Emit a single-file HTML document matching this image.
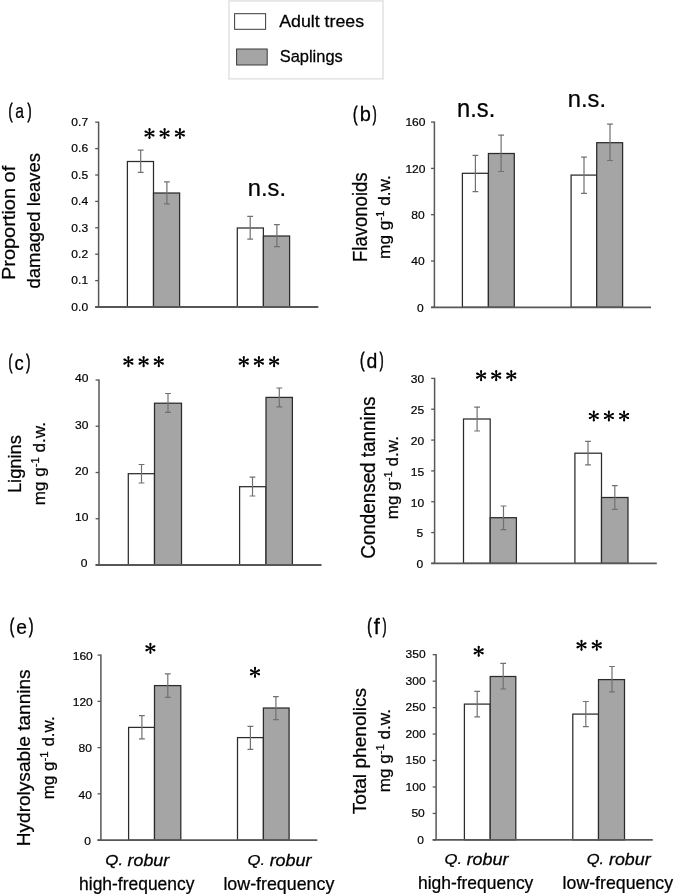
<!DOCTYPE html><html><head><meta charset="utf-8"><style>html,body{margin:0;padding:0;background:#fff;overflow:hidden;}svg{display:block;font-family:"Liberation Sans", sans-serif;will-change:transform;}text{fill:#000;}</style></head><body>
<svg width="675" height="894" viewBox="0 0 675 894">
<rect width="675" height="894" fill="#fff"/>
<g id="shapes">
<rect x="228.9" y="0.9" width="154.1" height="77.9" fill="#fff" stroke="#e6e6e6" stroke-width="1.8"/>
<rect x="234.6" y="13.7" width="31" height="15.6" fill="#fff" stroke="#3a3a3a" stroke-width="1"/>
<rect x="236.6" y="49" width="30.6" height="16" fill="#a5a5a5" stroke="#3a3a3a" stroke-width="1"/>
<line x1="95.2" y1="307" x2="98.6" y2="307" stroke="#575757" stroke-width="1.3"/>
<text class="tk" transform="translate(88.1 310.85) scale(1.03 1)" font-size="11.7" text-anchor="end" stroke="#000" stroke-width="0.2">0.0</text>
<line x1="95.2" y1="280.6" x2="98.6" y2="280.6" stroke="#575757" stroke-width="1.3"/>
<text class="tk" transform="translate(88.1 284.45) scale(1.03 1)" font-size="11.7" text-anchor="end" stroke="#000" stroke-width="0.2">0.1</text>
<line x1="95.2" y1="254.2" x2="98.6" y2="254.2" stroke="#575757" stroke-width="1.3"/>
<text class="tk" transform="translate(88.1 258.05) scale(1.03 1)" font-size="11.7" text-anchor="end" stroke="#000" stroke-width="0.2">0.2</text>
<line x1="95.2" y1="227.8" x2="98.6" y2="227.8" stroke="#575757" stroke-width="1.3"/>
<text class="tk" transform="translate(88.1 231.65) scale(1.03 1)" font-size="11.7" text-anchor="end" stroke="#000" stroke-width="0.2">0.3</text>
<line x1="95.2" y1="201.4" x2="98.6" y2="201.4" stroke="#575757" stroke-width="1.3"/>
<text class="tk" transform="translate(88.1 205.25) scale(1.03 1)" font-size="11.7" text-anchor="end" stroke="#000" stroke-width="0.2">0.4</text>
<line x1="95.2" y1="175" x2="98.6" y2="175" stroke="#575757" stroke-width="1.3"/>
<text class="tk" transform="translate(88.1 178.85) scale(1.03 1)" font-size="11.7" text-anchor="end" stroke="#000" stroke-width="0.2">0.5</text>
<line x1="95.2" y1="148.6" x2="98.6" y2="148.6" stroke="#575757" stroke-width="1.3"/>
<text class="tk" transform="translate(88.1 152.45) scale(1.03 1)" font-size="11.7" text-anchor="end" stroke="#000" stroke-width="0.2">0.6</text>
<line x1="95.2" y1="122.2" x2="98.6" y2="122.2" stroke="#575757" stroke-width="1.3"/>
<text class="tk" transform="translate(88.1 126.05) scale(1.03 1)" font-size="11.7" text-anchor="end" stroke="#000" stroke-width="0.2">0.7</text>
<rect x="127.4" y="161.5" width="26.1" height="145.5" fill="white" stroke="#2b2b2b" stroke-width="1.25"/>
<rect x="153.5" y="193" width="26.1" height="114" fill="#a5a5a5" stroke="#2b2b2b" stroke-width="1.25"/>
<rect x="237.3" y="228" width="26.1" height="79" fill="white" stroke="#2b2b2b" stroke-width="1.25"/>
<rect x="263.4" y="236" width="26.2" height="71" fill="#a5a5a5" stroke="#2b2b2b" stroke-width="1.25"/>
<path d="M140.7 150.1V172.4M137.8 150.1H143.6M137.8 172.4H143.6" stroke="#717171" stroke-width="1.2" fill="none"/>
<path d="M166.9 181.8V203.8M164 181.8H169.8M164 203.8H169.8" stroke="#717171" stroke-width="1.2" fill="none"/>
<path d="M250.2 216.4V239.2M247.3 216.4H253.1M247.3 239.2H253.1" stroke="#717171" stroke-width="1.2" fill="none"/>
<path d="M276.9 224.7V246.7M274 224.7H279.8M274 246.7H279.8" stroke="#717171" stroke-width="1.2" fill="none"/>
<line x1="98.6" y1="121.6" x2="98.6" y2="307" stroke="#575757" stroke-width="1.5"/>
<line x1="95.2" y1="307" x2="318.3" y2="307" stroke="#575757" stroke-width="1.8"/>
<g fill="#000" transform="translate(149.5 133.5)"><polygon points="0.55,0 1.05,-4.55 -1.05,-4.55 -0.55,-0"/><circle cx="0" cy="-4.55" r="1.05"/><polygon points="-0.55,-0 -1.05,4.55 1.05,4.55 0.55,0"/><circle cx="-0" cy="4.55" r="1.05"/><polygon points="0.25,0.49 4.531,-1.13 3.577,-3.001 -0.25,-0.49"/><circle cx="4.054" cy="-2.066" r="1.05"/><polygon points="0.25,-0.49 -3.577,-3.001 -4.531,-1.13 -0.25,0.49"/><circle cx="-4.054" cy="-2.066" r="1.05"/><polygon points="-0.25,0.49 3.577,3.001 4.531,1.13 0.25,-0.49"/><circle cx="4.054" cy="2.066" r="1.05"/><polygon points="-0.25,-0.49 -4.531,1.13 -3.577,3.001 0.25,0.49"/><circle cx="-4.054" cy="2.066" r="1.05"/><circle cx="0" cy="0" r="0.9"/></g>
<g fill="#000" transform="translate(164.6 133.5)"><polygon points="0.55,0 1.05,-4.55 -1.05,-4.55 -0.55,-0"/><circle cx="0" cy="-4.55" r="1.05"/><polygon points="-0.55,-0 -1.05,4.55 1.05,4.55 0.55,0"/><circle cx="-0" cy="4.55" r="1.05"/><polygon points="0.25,0.49 4.531,-1.13 3.577,-3.001 -0.25,-0.49"/><circle cx="4.054" cy="-2.066" r="1.05"/><polygon points="0.25,-0.49 -3.577,-3.001 -4.531,-1.13 -0.25,0.49"/><circle cx="-4.054" cy="-2.066" r="1.05"/><polygon points="-0.25,0.49 3.577,3.001 4.531,1.13 0.25,-0.49"/><circle cx="4.054" cy="2.066" r="1.05"/><polygon points="-0.25,-0.49 -4.531,1.13 -3.577,3.001 0.25,0.49"/><circle cx="-4.054" cy="2.066" r="1.05"/><circle cx="0" cy="0" r="0.9"/></g>
<g fill="#000" transform="translate(179.9 133.5)"><polygon points="0.55,0 1.05,-4.55 -1.05,-4.55 -0.55,-0"/><circle cx="0" cy="-4.55" r="1.05"/><polygon points="-0.55,-0 -1.05,4.55 1.05,4.55 0.55,0"/><circle cx="-0" cy="4.55" r="1.05"/><polygon points="0.25,0.49 4.531,-1.13 3.577,-3.001 -0.25,-0.49"/><circle cx="4.054" cy="-2.066" r="1.05"/><polygon points="0.25,-0.49 -3.577,-3.001 -4.531,-1.13 -0.25,0.49"/><circle cx="-4.054" cy="-2.066" r="1.05"/><polygon points="-0.25,0.49 3.577,3.001 4.531,1.13 0.25,-0.49"/><circle cx="4.054" cy="2.066" r="1.05"/><polygon points="-0.25,-0.49 -4.531,1.13 -3.577,3.001 0.25,0.49"/><circle cx="-4.054" cy="2.066" r="1.05"/><circle cx="0" cy="0" r="0.9"/></g>
<line x1="431" y1="307.3" x2="434.4" y2="307.3" stroke="#575757" stroke-width="1.3"/>
<text class="tk" transform="translate(423.7 311.65) scale(1.03 1)" font-size="11.7" text-anchor="end" stroke="#000" stroke-width="0.2">0</text>
<line x1="431" y1="261" x2="434.4" y2="261" stroke="#575757" stroke-width="1.3"/>
<text class="tk" transform="translate(424.6 265.35) scale(1.03 1)" font-size="11.7" text-anchor="end" stroke="#000" stroke-width="0.2">40</text>
<line x1="431" y1="214.7" x2="434.4" y2="214.7" stroke="#575757" stroke-width="1.3"/>
<text class="tk" transform="translate(424.6 219.05) scale(1.03 1)" font-size="11.7" text-anchor="end" stroke="#000" stroke-width="0.2">80</text>
<line x1="431" y1="168.4" x2="434.4" y2="168.4" stroke="#575757" stroke-width="1.3"/>
<text class="tk" transform="translate(425.5 172.75) scale(1.03 1)" font-size="11.7" text-anchor="end" stroke="#000" stroke-width="0.2">120</text>
<line x1="431" y1="122.1" x2="434.4" y2="122.1" stroke="#575757" stroke-width="1.3"/>
<text class="tk" transform="translate(425.5 126.45) scale(1.03 1)" font-size="11.7" text-anchor="end" stroke="#000" stroke-width="0.2">160</text>
<rect x="462.4" y="173.3" width="26" height="134" fill="white" stroke="#2b2b2b" stroke-width="1.25"/>
<rect x="488.4" y="153.5" width="25.9" height="153.8" fill="#a5a5a5" stroke="#2b2b2b" stroke-width="1.25"/>
<rect x="571.1" y="175.1" width="25.6" height="132.2" fill="white" stroke="#2b2b2b" stroke-width="1.25"/>
<rect x="596.7" y="142.7" width="25.9" height="164.6" fill="#a5a5a5" stroke="#2b2b2b" stroke-width="1.25"/>
<path d="M475.4 155.4V191.7M472.5 155.4H478.3M472.5 191.7H478.3" stroke="#717171" stroke-width="1.2" fill="none"/>
<path d="M501.1 135.2V171.5M498.2 135.2H504M498.2 171.5H504" stroke="#717171" stroke-width="1.2" fill="none"/>
<path d="M584 157.2V193.3M581.1 157.2H586.9M581.1 193.3H586.9" stroke="#717171" stroke-width="1.2" fill="none"/>
<path d="M610 124.2V160.5M607.1 124.2H612.9M607.1 160.5H612.9" stroke="#717171" stroke-width="1.2" fill="none"/>
<line x1="434.4" y1="121.5" x2="434.4" y2="307.3" stroke="#575757" stroke-width="1.5"/>
<line x1="431" y1="307.3" x2="651" y2="307.3" stroke="#575757" stroke-width="1.8"/>
<line x1="95.6" y1="565" x2="99" y2="565" stroke="#575757" stroke-width="1.3"/>
<text class="tk" transform="translate(87.5 567.45) scale(1.03 1)" font-size="11.7" text-anchor="end" stroke="#000" stroke-width="0.2">0</text>
<line x1="95.6" y1="518.75" x2="99" y2="518.75" stroke="#575757" stroke-width="1.3"/>
<text class="tk" transform="translate(88.4 521.2) scale(1.03 1)" font-size="11.7" text-anchor="end" stroke="#000" stroke-width="0.2">10</text>
<line x1="95.6" y1="472.5" x2="99" y2="472.5" stroke="#575757" stroke-width="1.3"/>
<text class="tk" transform="translate(88.4 474.95) scale(1.03 1)" font-size="11.7" text-anchor="end" stroke="#000" stroke-width="0.2">20</text>
<line x1="95.6" y1="426.25" x2="99" y2="426.25" stroke="#575757" stroke-width="1.3"/>
<text class="tk" transform="translate(88.4 428.7) scale(1.03 1)" font-size="11.7" text-anchor="end" stroke="#000" stroke-width="0.2">30</text>
<line x1="95.6" y1="380" x2="99" y2="380" stroke="#575757" stroke-width="1.3"/>
<text class="tk" transform="translate(88.4 382.45) scale(1.03 1)" font-size="11.7" text-anchor="end" stroke="#000" stroke-width="0.2">40</text>
<rect x="128.3" y="473.7" width="26.2" height="91.3" fill="white" stroke="#2b2b2b" stroke-width="1.25"/>
<rect x="154.5" y="403.2" width="27" height="161.8" fill="#a5a5a5" stroke="#2b2b2b" stroke-width="1.25"/>
<rect x="239.6" y="486.7" width="26.4" height="78.3" fill="white" stroke="#2b2b2b" stroke-width="1.25"/>
<rect x="266" y="397.4" width="26.4" height="167.6" fill="#a5a5a5" stroke="#2b2b2b" stroke-width="1.25"/>
<path d="M141.5 464.5V483M138.6 464.5H144.4M138.6 483H144.4" stroke="#717171" stroke-width="1.2" fill="none"/>
<path d="M168 393.5V412.4M165.1 393.5H170.9M165.1 412.4H170.9" stroke="#717171" stroke-width="1.2" fill="none"/>
<path d="M252.5 477.1V496M249.6 477.1H255.4M249.6 496H255.4" stroke="#717171" stroke-width="1.2" fill="none"/>
<path d="M279.3 388V406.8M276.4 388H282.2M276.4 406.8H282.2" stroke="#717171" stroke-width="1.2" fill="none"/>
<line x1="99" y1="379.4" x2="99" y2="565" stroke="#575757" stroke-width="1.5"/>
<line x1="95.6" y1="565" x2="321.5" y2="565" stroke="#575757" stroke-width="1.8"/>
<g fill="#000" transform="translate(128.4 361.6)"><polygon points="0.55,0 1.05,-4.55 -1.05,-4.55 -0.55,-0"/><circle cx="0" cy="-4.55" r="1.05"/><polygon points="-0.55,-0 -1.05,4.55 1.05,4.55 0.55,0"/><circle cx="-0" cy="4.55" r="1.05"/><polygon points="0.25,0.49 4.531,-1.13 3.577,-3.001 -0.25,-0.49"/><circle cx="4.054" cy="-2.066" r="1.05"/><polygon points="0.25,-0.49 -3.577,-3.001 -4.531,-1.13 -0.25,0.49"/><circle cx="-4.054" cy="-2.066" r="1.05"/><polygon points="-0.25,0.49 3.577,3.001 4.531,1.13 0.25,-0.49"/><circle cx="4.054" cy="2.066" r="1.05"/><polygon points="-0.25,-0.49 -4.531,1.13 -3.577,3.001 0.25,0.49"/><circle cx="-4.054" cy="2.066" r="1.05"/><circle cx="0" cy="0" r="0.9"/></g>
<g fill="#000" transform="translate(143.6 361.6)"><polygon points="0.55,0 1.05,-4.55 -1.05,-4.55 -0.55,-0"/><circle cx="0" cy="-4.55" r="1.05"/><polygon points="-0.55,-0 -1.05,4.55 1.05,4.55 0.55,0"/><circle cx="-0" cy="4.55" r="1.05"/><polygon points="0.25,0.49 4.531,-1.13 3.577,-3.001 -0.25,-0.49"/><circle cx="4.054" cy="-2.066" r="1.05"/><polygon points="0.25,-0.49 -3.577,-3.001 -4.531,-1.13 -0.25,0.49"/><circle cx="-4.054" cy="-2.066" r="1.05"/><polygon points="-0.25,0.49 3.577,3.001 4.531,1.13 0.25,-0.49"/><circle cx="4.054" cy="2.066" r="1.05"/><polygon points="-0.25,-0.49 -4.531,1.13 -3.577,3.001 0.25,0.49"/><circle cx="-4.054" cy="2.066" r="1.05"/><circle cx="0" cy="0" r="0.9"/></g>
<g fill="#000" transform="translate(158.8 361.6)"><polygon points="0.55,0 1.05,-4.55 -1.05,-4.55 -0.55,-0"/><circle cx="0" cy="-4.55" r="1.05"/><polygon points="-0.55,-0 -1.05,4.55 1.05,4.55 0.55,0"/><circle cx="-0" cy="4.55" r="1.05"/><polygon points="0.25,0.49 4.531,-1.13 3.577,-3.001 -0.25,-0.49"/><circle cx="4.054" cy="-2.066" r="1.05"/><polygon points="0.25,-0.49 -3.577,-3.001 -4.531,-1.13 -0.25,0.49"/><circle cx="-4.054" cy="-2.066" r="1.05"/><polygon points="-0.25,0.49 3.577,3.001 4.531,1.13 0.25,-0.49"/><circle cx="4.054" cy="2.066" r="1.05"/><polygon points="-0.25,-0.49 -4.531,1.13 -3.577,3.001 0.25,0.49"/><circle cx="-4.054" cy="2.066" r="1.05"/><circle cx="0" cy="0" r="0.9"/></g>
<g fill="#000" transform="translate(243.8 361.6)"><polygon points="0.55,0 1.05,-4.55 -1.05,-4.55 -0.55,-0"/><circle cx="0" cy="-4.55" r="1.05"/><polygon points="-0.55,-0 -1.05,4.55 1.05,4.55 0.55,0"/><circle cx="-0" cy="4.55" r="1.05"/><polygon points="0.25,0.49 4.531,-1.13 3.577,-3.001 -0.25,-0.49"/><circle cx="4.054" cy="-2.066" r="1.05"/><polygon points="0.25,-0.49 -3.577,-3.001 -4.531,-1.13 -0.25,0.49"/><circle cx="-4.054" cy="-2.066" r="1.05"/><polygon points="-0.25,0.49 3.577,3.001 4.531,1.13 0.25,-0.49"/><circle cx="4.054" cy="2.066" r="1.05"/><polygon points="-0.25,-0.49 -4.531,1.13 -3.577,3.001 0.25,0.49"/><circle cx="-4.054" cy="2.066" r="1.05"/><circle cx="0" cy="0" r="0.9"/></g>
<g fill="#000" transform="translate(258.9 361.6)"><polygon points="0.55,0 1.05,-4.55 -1.05,-4.55 -0.55,-0"/><circle cx="0" cy="-4.55" r="1.05"/><polygon points="-0.55,-0 -1.05,4.55 1.05,4.55 0.55,0"/><circle cx="-0" cy="4.55" r="1.05"/><polygon points="0.25,0.49 4.531,-1.13 3.577,-3.001 -0.25,-0.49"/><circle cx="4.054" cy="-2.066" r="1.05"/><polygon points="0.25,-0.49 -3.577,-3.001 -4.531,-1.13 -0.25,0.49"/><circle cx="-4.054" cy="-2.066" r="1.05"/><polygon points="-0.25,0.49 3.577,3.001 4.531,1.13 0.25,-0.49"/><circle cx="4.054" cy="2.066" r="1.05"/><polygon points="-0.25,-0.49 -4.531,1.13 -3.577,3.001 0.25,0.49"/><circle cx="-4.054" cy="2.066" r="1.05"/><circle cx="0" cy="0" r="0.9"/></g>
<g fill="#000" transform="translate(274.1 361.6)"><polygon points="0.55,0 1.05,-4.55 -1.05,-4.55 -0.55,-0"/><circle cx="0" cy="-4.55" r="1.05"/><polygon points="-0.55,-0 -1.05,4.55 1.05,4.55 0.55,0"/><circle cx="-0" cy="4.55" r="1.05"/><polygon points="0.25,0.49 4.531,-1.13 3.577,-3.001 -0.25,-0.49"/><circle cx="4.054" cy="-2.066" r="1.05"/><polygon points="0.25,-0.49 -3.577,-3.001 -4.531,-1.13 -0.25,0.49"/><circle cx="-4.054" cy="-2.066" r="1.05"/><polygon points="-0.25,0.49 3.577,3.001 4.531,1.13 0.25,-0.49"/><circle cx="4.054" cy="2.066" r="1.05"/><polygon points="-0.25,-0.49 -4.531,1.13 -3.577,3.001 0.25,0.49"/><circle cx="-4.054" cy="2.066" r="1.05"/><circle cx="0" cy="0" r="0.9"/></g>
<line x1="431.2" y1="563.4" x2="434.6" y2="563.4" stroke="#575757" stroke-width="1.3"/>
<text class="tk" transform="translate(423.2 568.25) scale(1.03 1)" font-size="11.7" text-anchor="end" stroke="#000" stroke-width="0.2">0</text>
<line x1="431.2" y1="532.567" x2="434.6" y2="532.567" stroke="#575757" stroke-width="1.3"/>
<text class="tk" transform="translate(423.2 537.417) scale(1.03 1)" font-size="11.7" text-anchor="end" stroke="#000" stroke-width="0.2">5</text>
<line x1="431.2" y1="501.733" x2="434.6" y2="501.733" stroke="#575757" stroke-width="1.3"/>
<text class="tk" transform="translate(424.1 506.583) scale(1.03 1)" font-size="11.7" text-anchor="end" stroke="#000" stroke-width="0.2">10</text>
<line x1="431.2" y1="470.9" x2="434.6" y2="470.9" stroke="#575757" stroke-width="1.3"/>
<text class="tk" transform="translate(424.1 475.75) scale(1.03 1)" font-size="11.7" text-anchor="end" stroke="#000" stroke-width="0.2">15</text>
<line x1="431.2" y1="440.067" x2="434.6" y2="440.067" stroke="#575757" stroke-width="1.3"/>
<text class="tk" transform="translate(424.1 444.917) scale(1.03 1)" font-size="11.7" text-anchor="end" stroke="#000" stroke-width="0.2">20</text>
<line x1="431.2" y1="409.233" x2="434.6" y2="409.233" stroke="#575757" stroke-width="1.3"/>
<text class="tk" transform="translate(424.1 414.083) scale(1.03 1)" font-size="11.7" text-anchor="end" stroke="#000" stroke-width="0.2">25</text>
<line x1="431.2" y1="378.4" x2="434.6" y2="378.4" stroke="#575757" stroke-width="1.3"/>
<text class="tk" transform="translate(424.1 383.25) scale(1.03 1)" font-size="11.7" text-anchor="end" stroke="#000" stroke-width="0.2">30</text>
<rect x="463.5" y="419" width="26.7" height="144.4" fill="white" stroke="#2b2b2b" stroke-width="1.25"/>
<rect x="490.2" y="517.7" width="26.2" height="45.7" fill="#a5a5a5" stroke="#2b2b2b" stroke-width="1.25"/>
<rect x="574.9" y="453.2" width="26.6" height="110.2" fill="white" stroke="#2b2b2b" stroke-width="1.25"/>
<rect x="601.5" y="497.5" width="26.5" height="65.9" fill="#a5a5a5" stroke="#2b2b2b" stroke-width="1.25"/>
<path d="M477.1 407.2V431M474.2 407.2H480M474.2 431H480" stroke="#717171" stroke-width="1.2" fill="none"/>
<path d="M503.5 506V529.7M500.6 506H506.4M500.6 529.7H506.4" stroke="#717171" stroke-width="1.2" fill="none"/>
<path d="M588 441.3V464.9M585.1 441.3H590.9M585.1 464.9H590.9" stroke="#717171" stroke-width="1.2" fill="none"/>
<path d="M614.8 485.6V509.4M611.9 485.6H617.7M611.9 509.4H617.7" stroke="#717171" stroke-width="1.2" fill="none"/>
<line x1="434.6" y1="377.8" x2="434.6" y2="563.4" stroke="#575757" stroke-width="1.5"/>
<line x1="431.2" y1="563.4" x2="656.8" y2="563.4" stroke="#575757" stroke-width="1.8"/>
<g fill="#000" transform="translate(481.1 375.6)"><polygon points="0.55,0 1.05,-4.55 -1.05,-4.55 -0.55,-0"/><circle cx="0" cy="-4.55" r="1.05"/><polygon points="-0.55,-0 -1.05,4.55 1.05,4.55 0.55,0"/><circle cx="-0" cy="4.55" r="1.05"/><polygon points="0.25,0.49 4.531,-1.13 3.577,-3.001 -0.25,-0.49"/><circle cx="4.054" cy="-2.066" r="1.05"/><polygon points="0.25,-0.49 -3.577,-3.001 -4.531,-1.13 -0.25,0.49"/><circle cx="-4.054" cy="-2.066" r="1.05"/><polygon points="-0.25,0.49 3.577,3.001 4.531,1.13 0.25,-0.49"/><circle cx="4.054" cy="2.066" r="1.05"/><polygon points="-0.25,-0.49 -4.531,1.13 -3.577,3.001 0.25,0.49"/><circle cx="-4.054" cy="2.066" r="1.05"/><circle cx="0" cy="0" r="0.9"/></g>
<g fill="#000" transform="translate(496.2 375.6)"><polygon points="0.55,0 1.05,-4.55 -1.05,-4.55 -0.55,-0"/><circle cx="0" cy="-4.55" r="1.05"/><polygon points="-0.55,-0 -1.05,4.55 1.05,4.55 0.55,0"/><circle cx="-0" cy="4.55" r="1.05"/><polygon points="0.25,0.49 4.531,-1.13 3.577,-3.001 -0.25,-0.49"/><circle cx="4.054" cy="-2.066" r="1.05"/><polygon points="0.25,-0.49 -3.577,-3.001 -4.531,-1.13 -0.25,0.49"/><circle cx="-4.054" cy="-2.066" r="1.05"/><polygon points="-0.25,0.49 3.577,3.001 4.531,1.13 0.25,-0.49"/><circle cx="4.054" cy="2.066" r="1.05"/><polygon points="-0.25,-0.49 -4.531,1.13 -3.577,3.001 0.25,0.49"/><circle cx="-4.054" cy="2.066" r="1.05"/><circle cx="0" cy="0" r="0.9"/></g>
<g fill="#000" transform="translate(511.3 375.6)"><polygon points="0.55,0 1.05,-4.55 -1.05,-4.55 -0.55,-0"/><circle cx="0" cy="-4.55" r="1.05"/><polygon points="-0.55,-0 -1.05,4.55 1.05,4.55 0.55,0"/><circle cx="-0" cy="4.55" r="1.05"/><polygon points="0.25,0.49 4.531,-1.13 3.577,-3.001 -0.25,-0.49"/><circle cx="4.054" cy="-2.066" r="1.05"/><polygon points="0.25,-0.49 -3.577,-3.001 -4.531,-1.13 -0.25,0.49"/><circle cx="-4.054" cy="-2.066" r="1.05"/><polygon points="-0.25,0.49 3.577,3.001 4.531,1.13 0.25,-0.49"/><circle cx="4.054" cy="2.066" r="1.05"/><polygon points="-0.25,-0.49 -4.531,1.13 -3.577,3.001 0.25,0.49"/><circle cx="-4.054" cy="2.066" r="1.05"/><circle cx="0" cy="0" r="0.9"/></g>
<g fill="#000" transform="translate(593.8 416)"><polygon points="0.55,0 1.05,-4.55 -1.05,-4.55 -0.55,-0"/><circle cx="0" cy="-4.55" r="1.05"/><polygon points="-0.55,-0 -1.05,4.55 1.05,4.55 0.55,0"/><circle cx="-0" cy="4.55" r="1.05"/><polygon points="0.25,0.49 4.531,-1.13 3.577,-3.001 -0.25,-0.49"/><circle cx="4.054" cy="-2.066" r="1.05"/><polygon points="0.25,-0.49 -3.577,-3.001 -4.531,-1.13 -0.25,0.49"/><circle cx="-4.054" cy="-2.066" r="1.05"/><polygon points="-0.25,0.49 3.577,3.001 4.531,1.13 0.25,-0.49"/><circle cx="4.054" cy="2.066" r="1.05"/><polygon points="-0.25,-0.49 -4.531,1.13 -3.577,3.001 0.25,0.49"/><circle cx="-4.054" cy="2.066" r="1.05"/><circle cx="0" cy="0" r="0.9"/></g>
<g fill="#000" transform="translate(608.9 416)"><polygon points="0.55,0 1.05,-4.55 -1.05,-4.55 -0.55,-0"/><circle cx="0" cy="-4.55" r="1.05"/><polygon points="-0.55,-0 -1.05,4.55 1.05,4.55 0.55,0"/><circle cx="-0" cy="4.55" r="1.05"/><polygon points="0.25,0.49 4.531,-1.13 3.577,-3.001 -0.25,-0.49"/><circle cx="4.054" cy="-2.066" r="1.05"/><polygon points="0.25,-0.49 -3.577,-3.001 -4.531,-1.13 -0.25,0.49"/><circle cx="-4.054" cy="-2.066" r="1.05"/><polygon points="-0.25,0.49 3.577,3.001 4.531,1.13 0.25,-0.49"/><circle cx="4.054" cy="2.066" r="1.05"/><polygon points="-0.25,-0.49 -4.531,1.13 -3.577,3.001 0.25,0.49"/><circle cx="-4.054" cy="2.066" r="1.05"/><circle cx="0" cy="0" r="0.9"/></g>
<g fill="#000" transform="translate(624.1 416)"><polygon points="0.55,0 1.05,-4.55 -1.05,-4.55 -0.55,-0"/><circle cx="0" cy="-4.55" r="1.05"/><polygon points="-0.55,-0 -1.05,4.55 1.05,4.55 0.55,0"/><circle cx="-0" cy="4.55" r="1.05"/><polygon points="0.25,0.49 4.531,-1.13 3.577,-3.001 -0.25,-0.49"/><circle cx="4.054" cy="-2.066" r="1.05"/><polygon points="0.25,-0.49 -3.577,-3.001 -4.531,-1.13 -0.25,0.49"/><circle cx="-4.054" cy="-2.066" r="1.05"/><polygon points="-0.25,0.49 3.577,3.001 4.531,1.13 0.25,-0.49"/><circle cx="4.054" cy="2.066" r="1.05"/><polygon points="-0.25,-0.49 -4.531,1.13 -3.577,3.001 0.25,0.49"/><circle cx="-4.054" cy="2.066" r="1.05"/><circle cx="0" cy="0" r="0.9"/></g>
<line x1="97.5" y1="840.1" x2="100.9" y2="840.1" stroke="#575757" stroke-width="1.3"/>
<text class="tk" transform="translate(91 844.75) scale(1.03 1)" font-size="11.7" text-anchor="end" stroke="#000" stroke-width="0.2">0</text>
<line x1="97.5" y1="793.85" x2="100.9" y2="793.85" stroke="#575757" stroke-width="1.3"/>
<text class="tk" transform="translate(91.9 798.5) scale(1.03 1)" font-size="11.7" text-anchor="end" stroke="#000" stroke-width="0.2">40</text>
<line x1="97.5" y1="747.6" x2="100.9" y2="747.6" stroke="#575757" stroke-width="1.3"/>
<text class="tk" transform="translate(91.9 752.25) scale(1.03 1)" font-size="11.7" text-anchor="end" stroke="#000" stroke-width="0.2">80</text>
<line x1="97.5" y1="701.35" x2="100.9" y2="701.35" stroke="#575757" stroke-width="1.3"/>
<text class="tk" transform="translate(92.8 706) scale(1.03 1)" font-size="11.7" text-anchor="end" stroke="#000" stroke-width="0.2">120</text>
<line x1="97.5" y1="655.1" x2="100.9" y2="655.1" stroke="#575757" stroke-width="1.3"/>
<text class="tk" transform="translate(92.8 659.75) scale(1.03 1)" font-size="11.7" text-anchor="end" stroke="#000" stroke-width="0.2">160</text>
<rect x="128.6" y="727.4" width="25.9" height="112.7" fill="white" stroke="#2b2b2b" stroke-width="1.25"/>
<rect x="154.5" y="685.6" width="26.3" height="154.5" fill="#a5a5a5" stroke="#2b2b2b" stroke-width="1.25"/>
<rect x="237.5" y="737.6" width="25.9" height="102.5" fill="white" stroke="#2b2b2b" stroke-width="1.25"/>
<rect x="263.4" y="708" width="25.7" height="132.1" fill="#a5a5a5" stroke="#2b2b2b" stroke-width="1.25"/>
<path d="M141.9 715.7V738.8M139 715.7H144.8M139 738.8H144.8" stroke="#717171" stroke-width="1.2" fill="none"/>
<path d="M167.8 673.8V697.3M164.9 673.8H170.7M164.9 697.3H170.7" stroke="#717171" stroke-width="1.2" fill="none"/>
<path d="M250.4 726.4V749.3M247.5 726.4H253.3M247.5 749.3H253.3" stroke="#717171" stroke-width="1.2" fill="none"/>
<path d="M275.9 696.6V719.7M273 696.6H278.8M273 719.7H278.8" stroke="#717171" stroke-width="1.2" fill="none"/>
<line x1="100.9" y1="654.5" x2="100.9" y2="840.1" stroke="#575757" stroke-width="1.5"/>
<line x1="97.5" y1="840.1" x2="317.3" y2="840.1" stroke="#575757" stroke-width="1.8"/>
<g fill="#000" transform="translate(150.4 648.3)"><polygon points="0.55,0 1.05,-4.55 -1.05,-4.55 -0.55,-0"/><circle cx="0" cy="-4.55" r="1.05"/><polygon points="-0.55,-0 -1.05,4.55 1.05,4.55 0.55,0"/><circle cx="-0" cy="4.55" r="1.05"/><polygon points="0.25,0.49 4.531,-1.13 3.577,-3.001 -0.25,-0.49"/><circle cx="4.054" cy="-2.066" r="1.05"/><polygon points="0.25,-0.49 -3.577,-3.001 -4.531,-1.13 -0.25,0.49"/><circle cx="-4.054" cy="-2.066" r="1.05"/><polygon points="-0.25,0.49 3.577,3.001 4.531,1.13 0.25,-0.49"/><circle cx="4.054" cy="2.066" r="1.05"/><polygon points="-0.25,-0.49 -4.531,1.13 -3.577,3.001 0.25,0.49"/><circle cx="-4.054" cy="2.066" r="1.05"/><circle cx="0" cy="0" r="0.9"/></g>
<g fill="#000" transform="translate(255 672.3)"><polygon points="0.55,0 1.05,-4.55 -1.05,-4.55 -0.55,-0"/><circle cx="0" cy="-4.55" r="1.05"/><polygon points="-0.55,-0 -1.05,4.55 1.05,4.55 0.55,0"/><circle cx="-0" cy="4.55" r="1.05"/><polygon points="0.25,0.49 4.531,-1.13 3.577,-3.001 -0.25,-0.49"/><circle cx="4.054" cy="-2.066" r="1.05"/><polygon points="0.25,-0.49 -3.577,-3.001 -4.531,-1.13 -0.25,0.49"/><circle cx="-4.054" cy="-2.066" r="1.05"/><polygon points="-0.25,0.49 3.577,3.001 4.531,1.13 0.25,-0.49"/><circle cx="4.054" cy="2.066" r="1.05"/><polygon points="-0.25,-0.49 -4.531,1.13 -3.577,3.001 0.25,0.49"/><circle cx="-4.054" cy="2.066" r="1.05"/><circle cx="0" cy="0" r="0.9"/></g>
<line x1="432.7" y1="839.9" x2="436.1" y2="839.9" stroke="#575757" stroke-width="1.3"/>
<text class="tk" transform="translate(423.9 843.55) scale(1.03 1)" font-size="11.7" text-anchor="end" stroke="#000" stroke-width="0.2">0</text>
<line x1="432.7" y1="813.443" x2="436.1" y2="813.443" stroke="#575757" stroke-width="1.3"/>
<text class="tk" transform="translate(424.8 817.093) scale(1.03 1)" font-size="11.7" text-anchor="end" stroke="#000" stroke-width="0.2">50</text>
<line x1="432.7" y1="786.986" x2="436.1" y2="786.986" stroke="#575757" stroke-width="1.3"/>
<text class="tk" transform="translate(425.7 790.636) scale(1.03 1)" font-size="11.7" text-anchor="end" stroke="#000" stroke-width="0.2">100</text>
<line x1="432.7" y1="760.529" x2="436.1" y2="760.529" stroke="#575757" stroke-width="1.3"/>
<text class="tk" transform="translate(425.7 764.179) scale(1.03 1)" font-size="11.7" text-anchor="end" stroke="#000" stroke-width="0.2">150</text>
<line x1="432.7" y1="734.071" x2="436.1" y2="734.071" stroke="#575757" stroke-width="1.3"/>
<text class="tk" transform="translate(425.7 737.721) scale(1.03 1)" font-size="11.7" text-anchor="end" stroke="#000" stroke-width="0.2">200</text>
<line x1="432.7" y1="707.614" x2="436.1" y2="707.614" stroke="#575757" stroke-width="1.3"/>
<text class="tk" transform="translate(425.7 711.264) scale(1.03 1)" font-size="11.7" text-anchor="end" stroke="#000" stroke-width="0.2">250</text>
<line x1="432.7" y1="681.157" x2="436.1" y2="681.157" stroke="#575757" stroke-width="1.3"/>
<text class="tk" transform="translate(425.7 684.807) scale(1.03 1)" font-size="11.7" text-anchor="end" stroke="#000" stroke-width="0.2">300</text>
<line x1="432.7" y1="654.7" x2="436.1" y2="654.7" stroke="#575757" stroke-width="1.3"/>
<text class="tk" transform="translate(425.7 658.35) scale(1.03 1)" font-size="11.7" text-anchor="end" stroke="#000" stroke-width="0.2">350</text>
<rect x="464.4" y="704.1" width="25.8" height="135.8" fill="white" stroke="#2b2b2b" stroke-width="1.25"/>
<rect x="490.2" y="676.5" width="25.6" height="163.4" fill="#a5a5a5" stroke="#2b2b2b" stroke-width="1.25"/>
<rect x="572.8" y="714.1" width="25.7" height="125.8" fill="white" stroke="#2b2b2b" stroke-width="1.25"/>
<rect x="598.5" y="679.6" width="26" height="160.3" fill="#a5a5a5" stroke="#2b2b2b" stroke-width="1.25"/>
<path d="M477.2 691.4V716.9M474.3 691.4H480.1M474.3 716.9H480.1" stroke="#717171" stroke-width="1.2" fill="none"/>
<path d="M503.2 663.4V689M500.3 663.4H506.1M500.3 689H506.1" stroke="#717171" stroke-width="1.2" fill="none"/>
<path d="M585.8 701.5V726.6M582.9 701.5H588.7M582.9 726.6H588.7" stroke="#717171" stroke-width="1.2" fill="none"/>
<path d="M612 666.5V691.8M609.1 666.5H614.9M609.1 691.8H614.9" stroke="#717171" stroke-width="1.2" fill="none"/>
<line x1="436.1" y1="654.1" x2="436.1" y2="839.9" stroke="#575757" stroke-width="1.5"/>
<line x1="432.7" y1="839.9" x2="652.8" y2="839.9" stroke="#575757" stroke-width="1.8"/>
<g fill="#000" transform="translate(478.7 651.3)"><polygon points="0.55,0 1.05,-4.55 -1.05,-4.55 -0.55,-0"/><circle cx="0" cy="-4.55" r="1.05"/><polygon points="-0.55,-0 -1.05,4.55 1.05,4.55 0.55,0"/><circle cx="-0" cy="4.55" r="1.05"/><polygon points="0.25,0.49 4.531,-1.13 3.577,-3.001 -0.25,-0.49"/><circle cx="4.054" cy="-2.066" r="1.05"/><polygon points="0.25,-0.49 -3.577,-3.001 -4.531,-1.13 -0.25,0.49"/><circle cx="-4.054" cy="-2.066" r="1.05"/><polygon points="-0.25,0.49 3.577,3.001 4.531,1.13 0.25,-0.49"/><circle cx="4.054" cy="2.066" r="1.05"/><polygon points="-0.25,-0.49 -4.531,1.13 -3.577,3.001 0.25,0.49"/><circle cx="-4.054" cy="2.066" r="1.05"/><circle cx="0" cy="0" r="0.9"/></g>
<g fill="#000" transform="translate(581.5 645.3)"><polygon points="0.55,0 1.05,-4.55 -1.05,-4.55 -0.55,-0"/><circle cx="0" cy="-4.55" r="1.05"/><polygon points="-0.55,-0 -1.05,4.55 1.05,4.55 0.55,0"/><circle cx="-0" cy="4.55" r="1.05"/><polygon points="0.25,0.49 4.531,-1.13 3.577,-3.001 -0.25,-0.49"/><circle cx="4.054" cy="-2.066" r="1.05"/><polygon points="0.25,-0.49 -3.577,-3.001 -4.531,-1.13 -0.25,0.49"/><circle cx="-4.054" cy="-2.066" r="1.05"/><polygon points="-0.25,0.49 3.577,3.001 4.531,1.13 0.25,-0.49"/><circle cx="4.054" cy="2.066" r="1.05"/><polygon points="-0.25,-0.49 -4.531,1.13 -3.577,3.001 0.25,0.49"/><circle cx="-4.054" cy="2.066" r="1.05"/><circle cx="0" cy="0" r="0.9"/></g>
<g fill="#000" transform="translate(596.8 645.3)"><polygon points="0.55,0 1.05,-4.55 -1.05,-4.55 -0.55,-0"/><circle cx="0" cy="-4.55" r="1.05"/><polygon points="-0.55,-0 -1.05,4.55 1.05,4.55 0.55,0"/><circle cx="-0" cy="4.55" r="1.05"/><polygon points="0.25,0.49 4.531,-1.13 3.577,-3.001 -0.25,-0.49"/><circle cx="4.054" cy="-2.066" r="1.05"/><polygon points="0.25,-0.49 -3.577,-3.001 -4.531,-1.13 -0.25,0.49"/><circle cx="-4.054" cy="-2.066" r="1.05"/><polygon points="-0.25,0.49 3.577,3.001 4.531,1.13 0.25,-0.49"/><circle cx="4.054" cy="2.066" r="1.05"/><polygon points="-0.25,-0.49 -4.531,1.13 -3.577,3.001 0.25,0.49"/><circle cx="-4.054" cy="2.066" r="1.05"/><circle cx="0" cy="0" r="0.9"/></g>
</g>
<text id="t_leg1" class="t" transform="translate(279.161 26.59) scale(1.112 1.035)" font-size="16" stroke="#000" stroke-width="0.25">Adult trees</text>
<text id="t_leg2" class="t" transform="translate(279.675 62.485) scale(1.029 1.059)" font-size="16" stroke="#000" stroke-width="0.25">Saplings</text>
<text id="t_pa1" class="t" transform="translate(8.525 118.083) scale(0.604 1.028)" font-size="20" stroke="#000" stroke-width="0.75">(</text>
<text id="t_pa2" class="t" transform="translate(15.16 118.461) scale(0.786 0.978)" font-size="20" stroke="#000" stroke-width="0.25">a</text>
<text id="t_pa3" class="t" transform="translate(27.439 118.083) scale(0.609 1.028)" font-size="20" stroke="#000" stroke-width="0.75">)</text>
<text id="t_pb1" class="t" transform="translate(353.02 121.195) scale(0.667 1.028)" font-size="20" stroke="#000" stroke-width="0.75">(</text>
<text id="t_pb2" class="t" transform="translate(359.649 121.435) scale(1.001 1.051)" font-size="20" stroke="#000" stroke-width="0.25">b</text>
<text id="t_pb3" class="t" transform="translate(372.778 121.195) scale(0.58 1.028)" font-size="20" stroke="#000" stroke-width="0.75">)</text>
<text id="t_pc1" class="t" transform="translate(8.524 369.347) scale(0.582 1.015)" font-size="20" stroke="#000" stroke-width="0.75">(</text>
<text id="t_pc2" class="t" transform="translate(14.597 370.05) scale(0.92 0.978)" font-size="20" stroke="#000" stroke-width="0.25">c</text>
<text id="t_pc3" class="t" transform="translate(26.231 369.346) scale(0.609 1.015)" font-size="20" stroke="#000" stroke-width="0.75">)</text>
<text id="t_pd1" class="t" transform="translate(360.02 367.195) scale(0.667 1.028)" font-size="20" stroke="#000" stroke-width="0.75">(</text>
<text id="t_pd2" class="t" transform="translate(366.565 367.636) scale(0.974 1.034)" font-size="20" stroke="#000" stroke-width="0.25">d</text>
<text id="t_pd3" class="t" transform="translate(379.787 367.195) scale(0.577 1.028)" font-size="20" stroke="#000" stroke-width="0.75">)</text>
<text id="t_pe1" class="t" transform="translate(9.656 633.227) scale(0.66 1.041)" font-size="20" stroke="#000" stroke-width="0.75">(</text>
<text id="t_pe2" class="t" transform="translate(16.264 633.512) scale(0.961 0.973)" font-size="20" stroke="#000" stroke-width="0.25">e</text>
<text id="t_pe3" class="t" transform="translate(28.932 633.227) scale(0.653 1.041)" font-size="20" stroke="#000" stroke-width="0.75">)</text>
<text id="t_pf1" class="t" transform="translate(367.24 633.09) scale(0.652 1.027)" font-size="20" stroke="#000" stroke-width="0.75">(</text>
<text id="t_pf2" class="t" transform="translate(373.727 633.749) scale(1.091 1.062)" font-size="20" stroke="#000" stroke-width="0.25">f</text>
<text id="t_pf3" class="t" transform="translate(382.716 633.09) scale(0.564 1.027)" font-size="20" stroke="#000" stroke-width="0.75">)</text>
<text id="t_ya1" class="t" transform="translate(14.615 280.079) scale(0.959 1.051) rotate(-90)" font-size="19" stroke="#000" stroke-width="0.25">Proportion of</text>
<text id="t_ya2" class="t" transform="translate(40.265 288.43) scale(1.011 0.972) rotate(-90)" font-size="19" stroke="#000" stroke-width="0.25">damaged leaves</text>
<text id="t_yb1" class="t" transform="translate(366.745 262.014) scale(1.018 0.976) rotate(-90)" font-size="19" stroke="#000" stroke-width="0.25">Flavonoids</text>
<text id="t_yb2" class="t" transform="translate(390.375 258.887) scale(0.983 1.04) rotate(-90)" font-size="16.5" stroke="#000" stroke-width="0.25">mg g<tspan font-size="11" dy="-6.3">-1</tspan><tspan dy="6.3"> d.w.</tspan></text>
<text id="t_yc1" class="t" transform="translate(21.317 493.101) scale(0.956 0.965) rotate(-90)" font-size="19" stroke="#000" stroke-width="0.25">Lignins</text>
<text id="t_yc2" class="t" transform="translate(45.038 505.355) scale(0.979 1.037) rotate(-90)" font-size="16.5" stroke="#000" stroke-width="0.25">mg g<tspan font-size="11" dy="-6.3">-1</tspan><tspan dy="6.3"> d.w.</tspan></text>
<text id="t_yd1" class="t" transform="translate(374.745 558.742) scale(1.018 0.992) rotate(-90)" font-size="19" stroke="#000" stroke-width="0.25">Condensed tannins</text>
<text id="t_yd2" class="t" transform="translate(398.375 519.191) scale(0.983 1.035) rotate(-90)" font-size="16.5" stroke="#000" stroke-width="0.25">mg g<tspan font-size="11" dy="-6.3">-1</tspan><tspan dy="6.3"> d.w.</tspan></text>
<text id="t_ye1" class="t" transform="translate(30.112 846.206) scale(0.961 1.003) rotate(-90)" font-size="19" stroke="#000" stroke-width="0.25">Hydrolysable tannins</text>
<text id="t_ye2" class="t" transform="translate(54.091 799.248) scale(0.979 1.032) rotate(-90)" font-size="16.5" stroke="#000" stroke-width="0.25">mg g<tspan font-size="11" dy="-6.3">-1</tspan><tspan dy="6.3"> d.w.</tspan></text>
<text id="t_yf1" class="t" transform="translate(365.882 814.261) scale(0.98 1.007) rotate(-90)" font-size="19" stroke="#000" stroke-width="0.25">Total phenolics</text>
<text id="t_yf2" class="t" transform="translate(390.038 792.356) scale(0.979 1.037) rotate(-90)" font-size="16.5" stroke="#000" stroke-width="0.25">mg g<tspan font-size="11" dy="-6.3">-1</tspan><tspan dy="6.3"> d.w.</tspan></text>
<text id="t_nsa" class="t" transform="translate(247.789 196.476) scale(0.949 0.963)" font-size="25" stroke="#000" stroke-width="0.25">n.s.</text>
<text id="t_nsb1" class="t" transform="translate(457.115 117.425) scale(0.948 0.995)" font-size="25" stroke="#000" stroke-width="0.25">n.s.</text>
<text id="t_nsb2" class="t" transform="translate(567.782 107.071) scale(0.949 0.988)" font-size="25" stroke="#000" stroke-width="0.25">n.s.</text>
<text id="t_qe1" class="t" transform="translate(105.271 864.979) scale(1.126 1.01)" font-size="15" font-style="italic" stroke="#000" stroke-width="0.25">Q.</text>
<text id="t_re1" class="t" transform="translate(127.54 866.258) scale(1.189 1.151)" font-size="15" font-style="italic" stroke="#000" stroke-width="0.25">robur</text>
<text id="t_qe2" class="t" transform="translate(247.603 864.64) scale(1.114 0.993)" font-size="15" font-style="italic" stroke="#000" stroke-width="0.25">Q.</text>
<text id="t_re2" class="t" transform="translate(269.626 865.85) scale(1.196 1.151)" font-size="15" font-style="italic" stroke="#000" stroke-width="0.25">robur</text>
<text id="t_qf1" class="t" transform="translate(444.603 863.64) scale(1.114 0.993)" font-size="15" font-style="italic" stroke="#000" stroke-width="0.25">Q.</text>
<text id="t_rf1" class="t" transform="translate(466.626 864.85) scale(1.196 1.151)" font-size="15" font-style="italic" stroke="#000" stroke-width="0.25">robur</text>
<text id="t_qf2" class="t" transform="translate(586.781 863.676) scale(1.101 1.009)" font-size="15" font-style="italic" stroke="#000" stroke-width="0.25">Q.</text>
<text id="t_rf2" class="t" transform="translate(608.95 864.831) scale(1.189 1.151)" font-size="15" font-style="italic" stroke="#000" stroke-width="0.25">robur</text>
<text id="t_he" class="t" transform="translate(79.072 890.041) scale(0.969 1.031)" font-size="18" stroke="#000" stroke-width="0.25">high-frequency</text>
<text id="t_lo_e" class="t" transform="translate(223.409 890.228) scale(0.991 0.98)" font-size="18" stroke="#000" stroke-width="0.25">low-frequency</text>
<text id="t_hf" class="t" transform="translate(417.922 888.803) scale(0.97 1)" font-size="18" stroke="#000" stroke-width="0.25">high-frequency</text>
<text id="t_lo_f" class="t" transform="translate(562.562 888.588) scale(0.987 0.988)" font-size="18" stroke="#000" stroke-width="0.25">low-frequency</text>
</svg></body></html>
